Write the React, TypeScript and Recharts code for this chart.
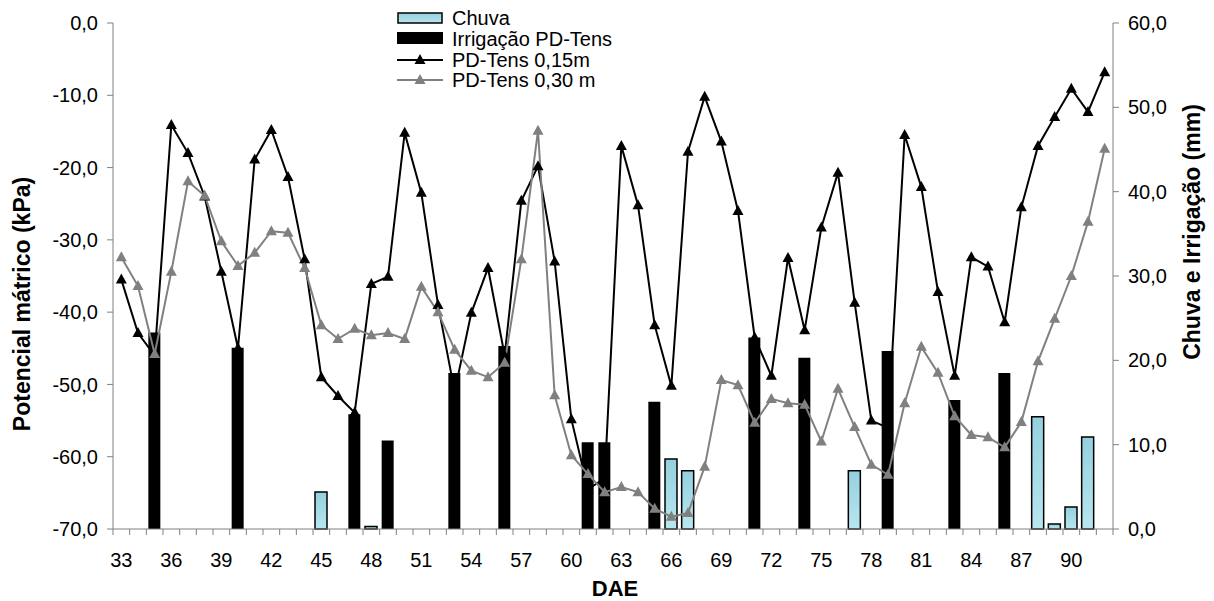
import React from "react";
import {
  ComposedChart,
  Bar,
  Line,
  XAxis,
  YAxis,
  Legend,
  Label,
} from "recharts";

const dae = [
  33, 34, 35, 36, 37, 38, 39, 40, 41, 42, 43, 44, 45, 46, 47, 48, 49, 50, 51, 52,
  53, 54, 55, 56, 57, 58, 59, 60, 61, 62, 63, 64, 65, 66, 67, 68, 69, 70, 71, 72,
  73, 74, 75, 76, 77, 78, 79, 80, 81, 82, 83, 84, 85, 86, 87, 88, 89, 90, 91, 92,
];

// PD-Tens 0,15m (kPa)
const tens015 = [
  -35.5, -42.9, -46.0, -14.1, -18.0, -24.0, -34.4, -45.0, -18.9, -14.8,
  -21.3, -32.7, -49.0, -51.6, -53.9, -36.1, -35.1, -15.2, -23.5, -39.0,
  -51.0, -40.1, -33.9, -46.0, -24.6, -19.8, -33.0, -54.8, -64.5, -63.0,
  -17.0, -25.2, -41.8, -50.2, -17.8, -10.2, -16.4, -26.0, -43.5, -48.8,
  -32.5, -42.5, -28.3, -20.7, -38.7, -55.0, -56.0, -15.5, -22.7, -37.2,
  -48.8, -32.4, -33.7, -41.4, -25.5, -17.0, -13.0, -9.1, -12.3, -6.8,
];

// PD-Tens 0,30 m (kPa)
const tens030 = [
  -32.4, -36.4, -45.8, -34.4, -21.9, -23.9, -30.2, -33.6, -31.8, -28.8,
  -29.0, -33.9, -41.8, -43.7, -42.3, -43.2, -42.9, -43.7, -36.5, -40.0,
  -45.2, -48.1, -49.0, -47.0, -32.7, -14.9, -51.5, -59.8, -62.4, -64.9,
  -64.2, -64.9, -67.2, -68.3, -67.8, -61.4, -49.4, -50.1, -55.3, -52.0,
  -52.6, -52.8, -57.9, -50.6, -55.9, -61.1, -62.5, -52.6, -44.8, -48.4,
  -54.4, -57.0, -57.3, -58.7, -55.2, -46.8, -40.9, -35.0, -27.5, -17.4,
];

// Chuva (mm)
const chuva = [
  null, null, null, null, null, null, null, null, null, null,
  null, null, 4.4, null, null, 0.3, null, null, null, null,
  null, null, null, null, null, null, null, null, null, null,
  null, null, null, 8.3, 6.9, null, null, null, null, null,
  null, null, null, null, 6.9, null, null, null, null, null,
  null, null, null, null, null, 13.3, 0.6, 2.6, 10.9, null,
];

// Irrigação PD-Tens (mm)
const irrigacao = [
  null, null, 23.3, null, null, null, null, 21.5, null, null,
  null, null, null, null, 13.6, null, 10.5, null, null, null,
  18.5, null, null, 21.7, null, null, null, null, 10.3, 10.3,
  null, null, 15.1, null, null, null, null, null, 22.7, null,
  null, 20.3, null, null, null, null, 21.1, null, null, null,
  15.3, null, null, 18.5, null, null, null, null, null, null,
];

const leftTicks = [-70, -60, -50, -40, -30, -20, -10, 0];
const rightTicks = [0, 10, 20, 30, 40, 50, 60];

const data = dae.map((d, i) => ({
  dae: d,
  chuva: chuva[i],
  irrigacao: irrigacao[i],
  t015: tens015[i],
  t030: tens030[i],
}));

const FONT = "'Liberation Sans', Arial, sans-serif";
const AXIS = "#808080";
const GRAY = "#808080";
const PLOT_W = 1000;
const BAND = PLOT_W / dae.length;

const fmt = (v: number) => v.toFixed(1).replace(".", ",");

const triangle = (color: string) => (props: any) => {
  const { cx, cy } = props;
  if (cx == null || cy == null) return <g />;
  return (
    <path
      d={`M${cx},${cy - 6} L${cx + 5.5},${cy + 4} L${cx - 5.5},${cy + 4} Z`}
      fill={color}
    />
  );
};

const XTick = (props: any) => {
  const { x, y, payload, index } = props;
  const half = BAND / 2;
  return (
    <g>
      <line x1={x - half} x2={x - half} y1={y} y2={y + 6} stroke={AXIS} />
      {index === dae.length - 1 && (
        <line x1={x + half} x2={x + half} y1={y} y2={y + 6} stroke={AXIS} />
      )}
      {index % 3 === 0 && (
        <text x={x} y={y + 38} textAnchor="middle" fontSize={20} fill="#000">
          {payload.value}
        </text>
      )}
    </g>
  );
};

const LegendBox = () => (
  <svg width={280} height={90} style={{ fontFamily: FONT }}>
    <defs>
      <linearGradient id="chuvaLeg" x1="0" y1="0" x2="0" y2="1">
        <stop offset="0%" stopColor="#93d1de" />
        <stop offset="100%" stopColor="#b8e6ef" />
      </linearGradient>
    </defs>
    <rect x={1} y={5} width={44} height={10} fill="url(#chuvaLeg)" stroke="#000" strokeWidth={1.5} />
    <text x={55} y={10} dominantBaseline="central" fontSize={20}>Chuva</text>
    <rect x={0} y={24} width={46} height={12} fill="#000" />
    <text x={55} y={30.5} dominantBaseline="central" fontSize={20}>Irrigação PD-Tens</text>
    <line x1={0} x2={46} y1={52} y2={52} stroke="#000" strokeWidth={2} />
    <path d="M23,46 L28.5,56 L17.5,56 Z" fill="#000" />
    <text x={55} y={52} dominantBaseline="central" fontSize={20}>PD-Tens 0,15m</text>
    <line x1={0} x2={46} y1={72} y2={72} stroke={GRAY} strokeWidth={2} />
    <path d="M23,66 L28.5,76 L17.5,76 Z" fill={GRAY} />
    <text x={55} y={72} dominantBaseline="central" fontSize={20}>PD-Tens 0,30 m</text>
  </svg>
);

export default function App() {
  return (
    <div style={{ fontFamily: FONT, width: 1198, height: 596 }}>
      <ComposedChart
        width={1198}
        height={596}
        data={data}
        margin={{ top: 15, right: 13, bottom: 35, left: 25 }}
      >
        <defs>
          <linearGradient id="chuvaFill" x1="0" y1="0" x2="0" y2="1">
            <stop offset="0%" stopColor="#93d1de" />
            <stop offset="100%" stopColor="#b8e6ef" />
          </linearGradient>
        </defs>
        <XAxis
          dataKey="dae"
          height={40}
          interval={0}
          tickSize={0}
          tickMargin={0}
          tickLine={false}
          axisLine={{ stroke: AXIS }}
          tick={<XTick />}
        >
          <Label
            content={() => (
              <text x={607} y={580} textAnchor="middle" dominantBaseline="central" fontSize={22} fontWeight="bold">
                DAE
              </text>
            )}
          />
        </XAxis>
        <YAxis
          yAxisId="left"
          width={80}
          domain={[-70, 0]}
          ticks={leftTicks}
          tickFormatter={fmt}
          tickSize={6}
          tickMargin={9}
          axisLine={{ stroke: AXIS }}
          tickLine={{ stroke: AXIS }}
          tick={{ fill: "#000", fontSize: 20 }}
        >
          <Label
            content={() => (
              <text
                x={14}
                y={296}
                textAnchor="middle"
                dominantBaseline="central"
                fontSize={23}
                fontWeight="bold"
                transform="rotate(-90, 14, 296)"
              >
                Potencial mátrico (kPa)
              </text>
            )}
          />
        </YAxis>
        <YAxis
          yAxisId="right"
          orientation="right"
          width={80}
          domain={[0, 60]}
          ticks={rightTicks}
          tickFormatter={fmt}
          tickSize={6}
          tickMargin={9}
          axisLine={{ stroke: AXIS }}
          tickLine={{ stroke: AXIS }}
          tick={{ fill: "#000", fontSize: 20 }}
        >
          <Label
            content={() => (
              <text
                x={1184}
                y={224}
                textAnchor="middle"
                dominantBaseline="central"
                fontSize={23}
                fontWeight="bold"
                transform="rotate(-90, 1184, 224)"
              >
                Chuva e Irrigação (mm)
              </text>
            )}
          />
        </YAxis>
        <Legend
          layout="vertical"
          align="center"
          verticalAlign="middle"
          content={() => <LegendBox />}
          wrapperStyle={{ position: "absolute", left: 389, top: 0, width: 280, height: 90 }}
        />
        <Bar
          yAxisId="right"
          dataKey="chuva"
          name="Chuva"
          stackId="mm"
          barSize={12}
          fill="url(#chuvaFill)"
          stroke="#000"
          strokeWidth={1.5}
          isAnimationActive={false}
        />
        <Bar
          yAxisId="right"
          dataKey="irrigacao"
          name="Irrigação PD-Tens"
          stackId="mm"
          barSize={12}
          fill="#000"
          isAnimationActive={false}
        />
        <Line
          yAxisId="left"
          dataKey="t015"
          name="PD-Tens 0,15m"
          type="linear"
          stroke="#000"
          strokeWidth={2}
          dot={triangle("#000")}
          activeDot={false}
          isAnimationActive={false}
        />
        <Line
          yAxisId="left"
          dataKey="t030"
          name="PD-Tens 0,30 m"
          type="linear"
          stroke={GRAY}
          strokeWidth={2}
          dot={triangle(GRAY)}
          activeDot={false}
          isAnimationActive={false}
        />
      </ComposedChart>
    </div>
  );
}
